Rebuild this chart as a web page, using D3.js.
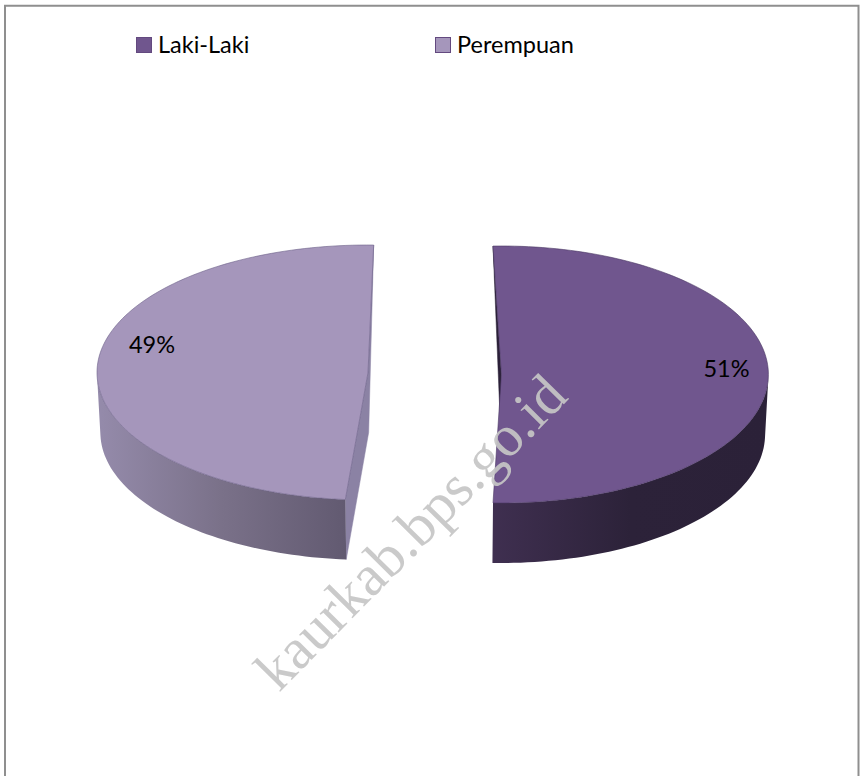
<!doctype html>
<html lang="en">
<head>
  <meta charset="utf-8">
  <title>Laki-Laki dan Perempuan</title>
  <script src="https://cdnjs.cloudflare.com/ajax/libs/d3/7.8.5/d3.min.js"></script>
  <style>
    html, body { margin: 0; padding: 0; background: #fff; }
    svg { display: block; }
  </style>
</head>
<body>
  <svg id="svg" width="861" height="776"></svg>
<script>
  // values
  var categories = ['Laki-Laki', 'Perempuan'];
  var values = [51, 49];
  var percentLabels = ['51%', '49%'];

  var topColors = ['#70568e', '#a596bb'];
  var faceColors = ['#2b2038', '#8b82a4'];
  var wallStops = [
    ['#2b2138', '#2c2239', '#3f2f50'],
    ['#625a71', '#7a7189', '#958bab']
  ];

  var width = 861, height = 776;
  var svg = d3.select('#svg');

  // frame of the chart area
  svg.append('path')
    .attr('d', 'M5,' + height + 'V5.7H858.5V' + height)
    .attr('fill', 'none')
    .attr('stroke', '#8f8f8f')
    .attr('stroke-width', 2);

  // each slice gets its own ellipse, the picture is slightly skewed by the 3D view
  var slices = [
    { cx: 501.4, cy: 374.5, rx: 267, ry: 128.5, rotate: -1.8 },
    { cx: 368, cy: 372.5, rx: 271, ry: 127.5, rotate: 1.2 }
  ];
  var depth = 60;
  var midX = 435, depthScale = 0.99;

  var pie = d3.pie().sort(null).value(function(d) { return d; });
  var arcs = pie(values);

  var defs = svg.append('defs');

  function rimPoint(s, angle) {
    var a = angle + s.rotate * Math.PI / 180;
    return [s.cx + s.rx * Math.sin(a), s.cy - s.ry * Math.cos(a)];
  }

  // the same point on the underside of the pie
  function lower(p) {
    return [midX + (p[0] - midX) * depthScale, p[1] + depth];
  }

  function sampleAngles(a, b) {
    return d3.range(0, 121).map(function(i) { return a + (b - a) * i / 120; });
  }

  var line = d3.line();

  arcs.forEach(function(arc, i) {
    var s = slices[i];
    var apex = [s.cx, s.cy];
    var rimStart = rimPoint(s, arc.startAngle);
    var rimEnd = rimPoint(s, arc.endAngle);
    var g = svg.append('g');

    var rim = sampleAngles(arc.startAngle, arc.endAngle).map(function(a) { return rimPoint(s, a); });

    // outer wall, only the part that faces the viewer
    var front = sampleAngles(arc.startAngle, arc.endAngle).filter(function(a) {
      return Math.cos(a + s.rotate * Math.PI / 180) < 0;
    }).map(function(a) { return rimPoint(s, a); });
    var wall = front.concat(front.slice().reverse().map(lower));

    var xs = d3.extent(front, function(p) { return p[0]; });
    var grad = defs.append('linearGradient')
      .attr('id', 'wall' + i)
      .attr('gradientUnits', 'userSpaceOnUse')
      .attr('x1', xs[1]).attr('x2', xs[0])
      .attr('y1', 0).attr('y2', 0);
    wallStops[i].forEach(function(c, j) {
      grad.append('stop').attr('offset', j / 2).attr('stop-color', c);
    });

    // cut faces, seen as thin slivers beside the top
    var face = i === 0
      ? [rimStart, lower(apex), apex]
      : [rimEnd, lower(apex), lower(rimStart), rimStart, apex];
    g.append('path')
      .attr('d', line(face) + 'Z')
      .attr('fill', faceColors[i])
      .attr('stroke', faceColors[i])
      .attr('stroke-width', 0.5);

    g.append('path')
      .attr('d', line(wall) + 'Z')
      .attr('fill', 'url(#wall' + i + ')');

    g.append('path')
      .attr('d', line([apex].concat(rim)) + 'Z')
      .attr('fill', topColors[i])
      .attr('stroke', i === 0 ? '#4a3763' : '#6b6088')
      .attr('stroke-width', 0.6);
  });

  var font = 'Lato, "Open Sans", sans-serif';

  // percent labels
  var labelPos = d3.scalePoint().domain(categories).range([726.5, 152]);
  var labelY = d3.scaleOrdinal().domain(categories).range([377, 353]);
  svg.selectAll('.pct').data(percentLabels).enter().append('text')
    .attr('class', 'pct')
    .attr('x', function(d, i) { return labelPos(categories[i]); })
    .attr('y', function(d, i) { return labelY(categories[i]); })
    .attr('text-anchor', 'middle')
    .attr('font-family', font)
    .attr('font-size', 23.5)
    .attr('fill', '#000')
    .text(function(d) { return d; });

  // legend
  var legendX = d3.scalePoint().domain(categories).range([136, 435]);
  var legend = svg.selectAll('.legend').data(categories).enter().append('g')
    .attr('class', 'legend')
    .attr('transform', function(d) { return 'translate(' + legendX(d) + ',37)'; });
  legend.append('rect')
    .attr('x', 0.5).attr('y', 0.5).attr('width', 15).attr('height', 15)
    .attr('fill', function(d, i) { return topColors[i]; })
    .attr('stroke', '#63497f')
    .attr('stroke-width', 1);
  legend.append('text')
    .attr('x', 22).attr('y', 16)
    .attr('font-family', font)
    .attr('font-size', 23.5)
    .attr('fill', '#000')
    .text(function(d) { return d; });

  // watermark across the chart
  svg.append('text')
    .attr('transform', 'translate(279,693) rotate(-45.4)')
    .attr('font-family', '"Liberation Serif", serif')
    .attr('font-size', 58)
    .attr('fill', '#c6c6c6')
    .attr('fill-opacity', 0.92)
    .text('kaurkab.bps.go.id');
</script>
</body>
</html>
